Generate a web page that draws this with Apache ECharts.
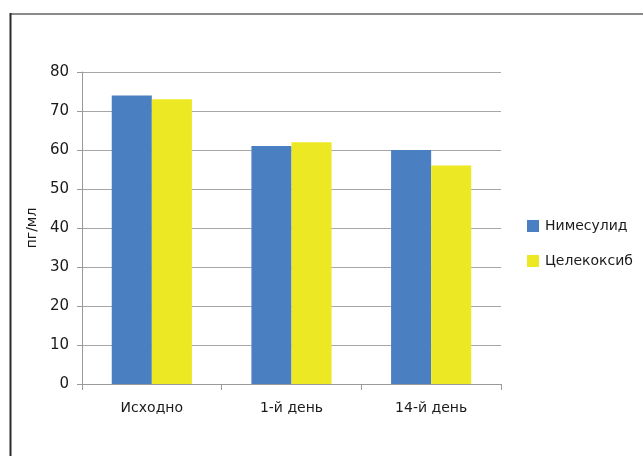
<!DOCTYPE html>
<html>
<head>
<meta charset="utf-8">
<script src="https://cdn.jsdelivr.net/npm/echarts@6/dist/echarts.min.js"></script>
<style>
html,body{margin:0;padding:0;background:#fff;}
#c{width:643px;height:456px;}
</style>
</head>
<body>
<div id="c"></div>
<script>
var categories = ['Исходно', '1-й день', '14-й день'];
var seriesNames = ['Нимесулид', 'Целекоксиб'];
var nimesulid = [74, 61, 60];
var celecoxib = [73, 62, 56];
var yTicks = [0, 10, 20, 30, 40, 50, 60, 70, 80];

var font = '"DejaVu Sans", sans-serif';
var chart = echarts.init(document.getElementById('c'));
chart.setOption({
  animation: false,
  backgroundColor: '#fff',
  textStyle: {fontFamily: font},
  graphic: [
    {type: 'line', shape: {x1: 10, y1: 14, x2: 643, y2: 14}, style: {stroke: '#8a8a8a', lineWidth: 2}},
    {type: 'line', shape: {x1: 10.5, y1: 13, x2: 10.5, y2: 456}, style: {stroke: '#2a2a2a', lineWidth: 2}}
  ],
  grid: {left: 82, right: 142, top: 72, bottom: 72, containLabel: false},
  legend: {
    orient: 'vertical',
    left: 527,
    top: 219,
    padding: 0,
    itemWidth: 12,
    itemHeight: 12,
    itemGap: 21,
    icon: 'rect',
    textStyle: {fontSize: 14, lineHeight: 12, color: '#1a1a1a', fontFamily: font, padding: [0, 0, 0, 1]},
    data: seriesNames
  },
  xAxis: {
    type: 'category',
    data: categories,
    axisLine: {lineStyle: {color: '#9a9a9a', width: 1}},
    axisTick: {show: true, length: 6, lineStyle: {color: '#9a9a9a'}},
    axisLabel: {fontSize: 14, color: '#1a1a1a', margin: 17, fontFamily: font}
  },
  yAxis: {
    type: 'value',
    min: 0, max: 80, interval: 10,
    name: 'пг/мл',
    nameLocation: 'middle',
    nameGap: 40,
    nameRotate: 90,
    nameTextStyle: {fontSize: 14, color: '#1a1a1a', fontFamily: font},
    axisLine: {show: true, lineStyle: {color: '#9a9a9a', width: 1}},
    axisTick: {show: true, length: 5, lineStyle: {color: '#9a9a9a'}},
    axisLabel: {fontSize: 15, color: '#1a1a1a', margin: 13, fontFamily: font,
      formatter: function(v){ return yTicks.indexOf(v) >= 0 ? String(v) : ''; }},
    splitLine: {lineStyle: {color: '#a6a6a6', width: 1}}
  },
  series: [
    {name: seriesNames[0], type: 'bar', data: nimesulid, barGap: '0%', barCategoryGap: '42.6%',
      itemStyle: {color: '#4a7fc1'}},
    {name: seriesNames[1], type: 'bar', data: celecoxib, barGap: '0%', barCategoryGap: '42.6%',
      itemStyle: {color: '#ece823'}}
  ]
});
</script>
</body>
</html>
